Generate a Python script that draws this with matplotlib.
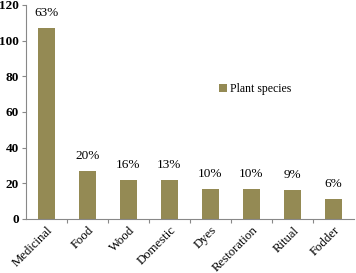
import matplotlib
matplotlib.use('Agg')
import matplotlib.pyplot as plt

# values
categories = ['Medicinal', 'Food', 'Wood', 'Domestic', 'Dyes', 'Restoration', 'Ritual', 'Fodder']
species = [107, 27, 22, 22, 17, 17, 16, 11]
pct_labels = ['63%', '20%', '16%', '13%', '10%', '10%', '9%', '6%']
yticks = [0, 20, 40, 60, 80, 100, 120]

plt.rcParams['font.family'] = ['Liberation Serif', 'DejaVu Serif']

fig = plt.figure(figsize=(3.56, 2.73), dpi=100)
ax = fig.add_axes([0.073, 0.198, 0.921, 0.784])

x = list(range(len(categories)))
ax.bar(x, species, width=0.42, color='#948A54', label='Plant species')

for xi, v, lab in zip(x, species, pct_labels):
    ax.text(xi, v + 5, lab, ha='center', va='bottom', fontsize=9.5)

ax.set_xlim(-0.5, len(categories) - 0.5)
ax.set_ylim(0, 120)
ax.set_yticks(yticks)
ax.set_yticklabels([str(t) for t in yticks], fontsize=9.5, fontweight='bold')

# category ticks are at the boundaries, labels at the centres
ax.set_xticks([i + 0.5 for i in range(len(categories) - 1)])
ax.set_xticklabels([])
ax.tick_params(axis='x', length=3, color='#888888')
ax.tick_params(axis='y', length=3, color='#888888', pad=2)
for xi, c in zip(x, categories):
    ax.text(xi + 0.22, -3, c, rotation=45, ha='right', va='top', fontsize=9.2,
            transform=ax.transData)

for s in ['top', 'right']:
    ax.spines[s].set_visible(False)
ax.spines['left'].set_color('#888888')
ax.spines['bottom'].set_color('#888888')

ax.legend(loc='upper left', bbox_to_anchor=(0.555, 0.685), frameon=False, fontsize=8.5,
          handlelength=0.7, handleheight=0.7, handletextpad=0.3)

fig.savefig('out.png', dpi=100)
